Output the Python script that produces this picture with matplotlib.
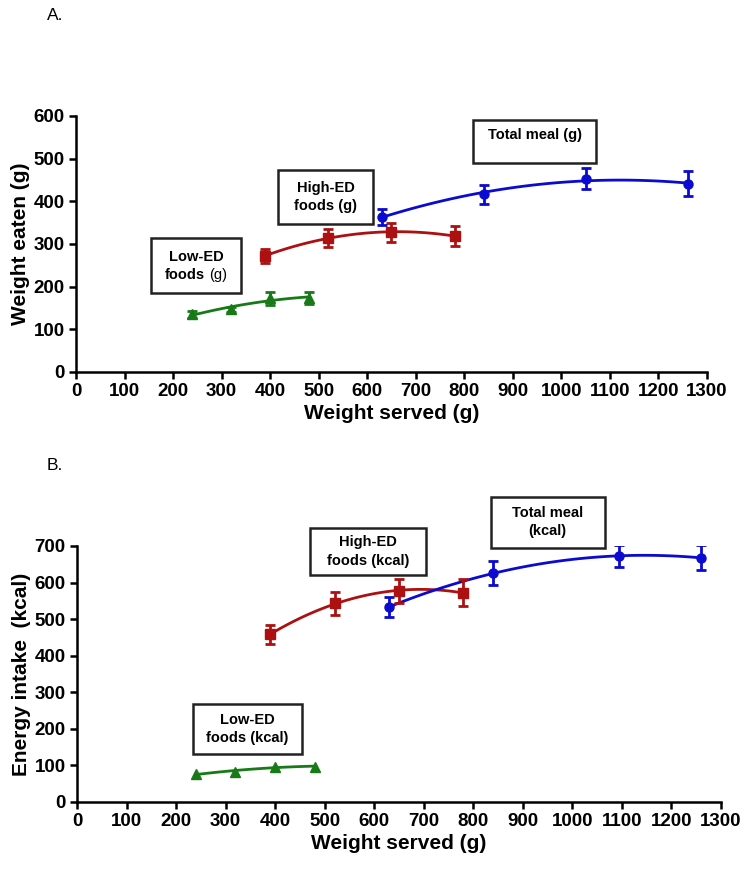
import numpy as np
import matplotlib
matplotlib.use("Agg")
import matplotlib.pyplot as plt
from matplotlib.patches import Rectangle

plt.rcParams["font.family"] = ["Liberation Sans", "DejaVu Sans"]

# panel A: weight eaten (g)
low_x_a = [240, 320, 400, 480]
low_y_a = [135, 147, 173, 174]
low_e_a = [9, 6, 15, 14]
high_x_a = [390, 520, 650, 780]
high_y_a = [272, 315, 327, 319]
high_e_a = [17, 21, 22, 23]
tot_x_a = [630, 840, 1050, 1260]
tot_y_a = [364, 416, 453, 441]
tot_e_a = [19, 23, 25, 29]

# panel B: energy intake (kcal)
low_x_b = [240, 320, 400, 480]
low_y_b = [76, 83, 97, 97]
low_e_b = [0, 0, 0, 0]
high_x_b = [390, 520, 650, 780]
high_y_b = [458, 543, 577, 572]
high_e_b = [26, 32, 34, 37]
tot_x_b = [630, 840, 1095, 1260]
tot_y_b = [533, 626, 672, 668]
tot_e_b = [27, 33, 30, 34]

x_ticks = list(range(0, 1301, 100))

green = "#177a17"
red = "#ad1010"
blue = "#0a0ad0"


def series(ax, x, y, e, c, m):
    x = np.array(x, float)
    y = np.array(y, float)
    coef = np.polyfit(x, y, 2)
    xs = np.linspace(x[0], x[-1], 120)
    ax.plot(xs, np.polyval(coef, xs), color=c, lw=2, zorder=3)
    if max(e) > 0:
        ax.errorbar(x, y, yerr=e, fmt="none", ecolor=c, elinewidth=2,
                    capsize=3.8, capthick=2, zorder=4)
    ax.plot(x, y, m, color=c, ms=6.5, linestyle="none", zorder=5)


def box(ax, x0, x1, y0, y1):
    r = Rectangle((x0, y0), x1 - x0, y1 - y0, fc="white", ec="#222222",
                  lw=1.8, clip_on=False, zorder=6)
    ax.add_patch(r)


def style(ax, ymax, ylabel):
    ax.set_xlim(0, 1300)
    ax.set_ylim(0, ymax)
    ax.set_xticks(x_ticks)
    ax.set_yticks(range(0, ymax + 1, 100))
    for s in ["top", "right"]:
        ax.spines[s].set_visible(False)
    for s in ["left", "bottom"]:
        ax.spines[s].set_linewidth(1.8)
    ax.tick_params(direction="out", length=5, width=1.8, labelsize=13.5, pad=3)
    for lab in ax.get_xticklabels() + ax.get_yticklabels():
        lab.set_fontweight("bold")
    ax.set_xlabel("Weight served (g)", fontsize=15, fontweight="bold", labelpad=3)
    ax.set_ylabel(ylabel, fontsize=15, fontweight="bold", labelpad=3)


fig = plt.figure(figsize=(7.51, 8.74), dpi=100)

# ---- A ----
ax1 = fig.add_axes([0.1012, 0.5744, 0.8402, 0.2929])
series(ax1, low_x_a, low_y_a, low_e_a, green, "^")
series(ax1, high_x_a, high_y_a, high_e_a, red, "s")
series(ax1, tot_x_a, tot_y_a, tot_e_a, blue, "o")
style(ax1, 600, "Weight eaten (g)")

box(ax1, 818, 1072, 489, 590)
ax1.text(945, 555, "Total meal (g)", ha="center", va="center",
         fontsize=10.5, fontweight="bold", zorder=7)
box(ax1, 417, 611, 347, 473)
ax1.text(514, 410, "High-ED\nfoods (g)", ha="center", va="center",
         fontsize=10.5, fontweight="bold", linespacing=1.4, zorder=7)
box(ax1, 154, 340, 186, 314)
ax1.text(247, 270, "Low-ED", ha="center", va="center",
         fontsize=10.5, fontweight="bold", zorder=7)
ax1.text(265, 228, "foods", ha="right", va="center",
         fontsize=10.5, fontweight="bold", zorder=7)
ax1.text(274, 228, "(g)", ha="left", va="center",
         fontsize=10.5, zorder=7)

# ---- B ----
ax2 = fig.add_axes([0.1025, 0.0824, 0.8575, 0.2929])
series(ax2, low_x_b, low_y_b, low_e_b, green, "^")
series(ax2, high_x_b, high_y_b, high_e_b, red, "s")
series(ax2, tot_x_b, tot_y_b, tot_e_b, blue, "o")
style(ax2, 700, "Energy intake  (kcal)")

box(ax2, 835, 1066, 695, 835)
ax2.text(950, 765, "Total meal\n(kcal)", ha="center", va="center",
         fontsize=10.5, fontweight="bold", linespacing=1.4, zorder=7)
box(ax2, 471, 704, 621, 750)
ax2.text(587, 685, "High-ED\nfoods (kcal)", ha="center", va="center",
         fontsize=10.5, fontweight="bold", linespacing=1.4, zorder=7)
box(ax2, 234, 455, 131, 267)
ax2.text(344, 199, "Low-ED\nfoods (kcal)", ha="center", va="center",
         fontsize=10.5, fontweight="bold", linespacing=1.4, zorder=7)

fig.text(47 / 751, 1 - 15 / 874, "A.", fontsize=12.5, va="center")
fig.text(47 / 751, 1 - 466 / 874, "B.", fontsize=12.5, va="center")

fig.savefig("out.png", dpi=100)
